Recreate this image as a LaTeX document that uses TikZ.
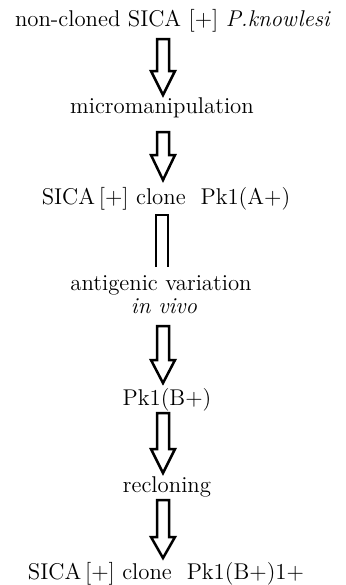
\documentclass[tikz,border=0pt]{standalone}
\tikzset{
  lbl/.style={anchor=base, inner sep=0pt, font=\fontsize{11.4}{13.6}\selectfont},
  blk/.style={draw, line width=1.25pt, line join=miter, fill=white},
}
% block arrow: #1 top, #2 head start, #3 tip (px, y downwards)
\newcommand\blkarrow[4]{%
  \coordinate (#4t) at (163,#1);
  \coordinate (#4e) at (163,#3);
  \draw[blk] ([xshift=-3pt]#4t) -- ([xshift=-3pt]#4t |- 0,#2) -- ([xshift=-6pt]#4t |- 0,#2)
     -- (#4e) -- ([xshift=6pt]#4t |- 0,#2) -- ([xshift=3pt]#4t |- 0,#2) -- ([xshift=3pt]#4t) -- cycle;}
\begin{document}
\begin{tikzpicture}[x=0.5pt,y=-0.5pt]
\useasboundingbox (0,0) rectangle (346,585);
\node[lbl] (n1) at (173,26) {non-cloned SICA [+] \textit{P.knowlesi}};
\node[lbl] (n2) at (162,113) {micromanipulation};
\node[lbl] (n3) at (166,204) {SICA\,[+] clone\ \ Pk1(A+)};
\node[lbl] (n4) at (161,290) {antigenic variation};
\node[lbl] (n5) at (164,313) {\textit{in vivo}};
\node[lbl] (n6) at (167,405) {Pk1(B+)};
\node[lbl] (n7) at (167,492) {recloning};
\node[lbl] (n8) at (166,579) {SICA\,[+] clone\ \ Pk1(B+)1+};
\blkarrow{39}{71}{95}{a1}
\blkarrow{132}{155}{180}{a2}
\coordinate (b1) at (162,267);
\coordinate (b2) at (162,215);
\draw[line width=1.25pt, line join=miter] ([xshift=-3pt]b1) -- ([xshift=-3pt]b2) -- ([xshift=3pt]b2) -- ([xshift=3pt]b1);
\blkarrow{326}{360}{383}{a3}
\blkarrow{413}{449}{473}{a4}
\blkarrow{500}{537}{558}{a5}
\end{tikzpicture}
\end{document}
